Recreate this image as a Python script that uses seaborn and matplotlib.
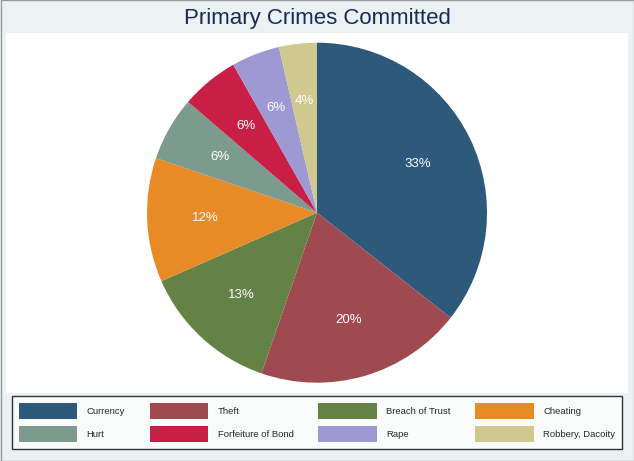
import matplotlib
matplotlib.use("Agg")
import matplotlib.pyplot as plt
import matplotlib.patches as mpatches
import seaborn as sns

# slice shares (clockwise from 12 o'clock)
crimes = ["Currency", "Theft", "Breach of Trust", "Cheating",
          "Hurt", "Forfeiture of Bond", "Rape", "Robbery, Dacoity"]
shares = [35.6, 19.7, 13.1, 11.8, 6.1, 5.5, 4.6, 3.6]
pct_labels = ["33%", "20%", "13%", "12%", "6%", "6%", "6%", "4%"]
colors = ["#2D5A7B", "#9E4A50", "#648146", "#E88B27",
          "#7D9A8E", "#C91F47", "#9E99D3", "#CFC990"]

sns.set_theme(style="white")
plt.rcParams["font.family"] = ["Liberation Sans", "DejaVu Sans"]
palette = sns.color_palette(colors)

W, H = 634, 461
fig = plt.figure(figsize=(W / 100, H / 100), dpi=100)
fig.patch.set_facecolor("#EAF2F4")

# outer border
fig.add_artist(mpatches.Rectangle((0.5 / W, 0.5 / H), 1 - 1 / W, 1 - 1 / H,
                                  transform=fig.transFigure, fill=False,
                                  edgecolor="#9A9A9A", linewidth=1))
# white plot region
fig.add_artist(mpatches.Rectangle((6 / W, (H - 393) / H), 622 / W, 360 / H,
                                  transform=fig.transFigure, facecolor="white",
                                  edgecolor="none", zorder=0))

fig.text(0.5, 1 - 18.5 / H, "Primary Crimes Committed", ha="center", va="center",
         fontsize=16, color="#1B2A55")

cx, cy, r = 317, 212.7, 170
ax = fig.add_axes([(cx - r) / W, (H - cy - r) / H, 2 * r / W, 2 * r / H])
ax.set_axis_off()
wedges, texts = ax.pie(shares, colors=palette, startangle=90, counterclock=False,
                       labels=pct_labels, labeldistance=0.66,
                       wedgeprops=dict(linewidth=0),
                       textprops=dict(color="white", fontsize=9.5,
                                      ha="center", va="center"))
ax.set_xlim(-1, 1)
ax.set_ylim(-1, 1)

# legend, filled row-wise
handles = [mpatches.Patch(facecolor=c, edgecolor="none") for c in palette]
order = [0, 4, 1, 5, 2, 6, 3, 7]
leg = fig.legend([handles[i] for i in order], [crimes[i] for i in order],
                 ncol=4, loc="lower left",
                 bbox_to_anchor=(12 / W, (H - 449) / H, 610 / W, 52 / H),
                 mode="expand", borderaxespad=0,
                 fontsize=6.8, handlelength=6.2, handleheight=2.27,
                 handletextpad=1.0, columnspacing=2.5, labelspacing=0.72,
                 borderpad=0.7, fancybox=False, frameon=True)
leg.get_frame().set_edgecolor("black")
leg.get_frame().set_linewidth(1)
leg.get_frame().set_facecolor("white")

fig.savefig("out.png", dpi=100, facecolor=fig.get_facecolor())
